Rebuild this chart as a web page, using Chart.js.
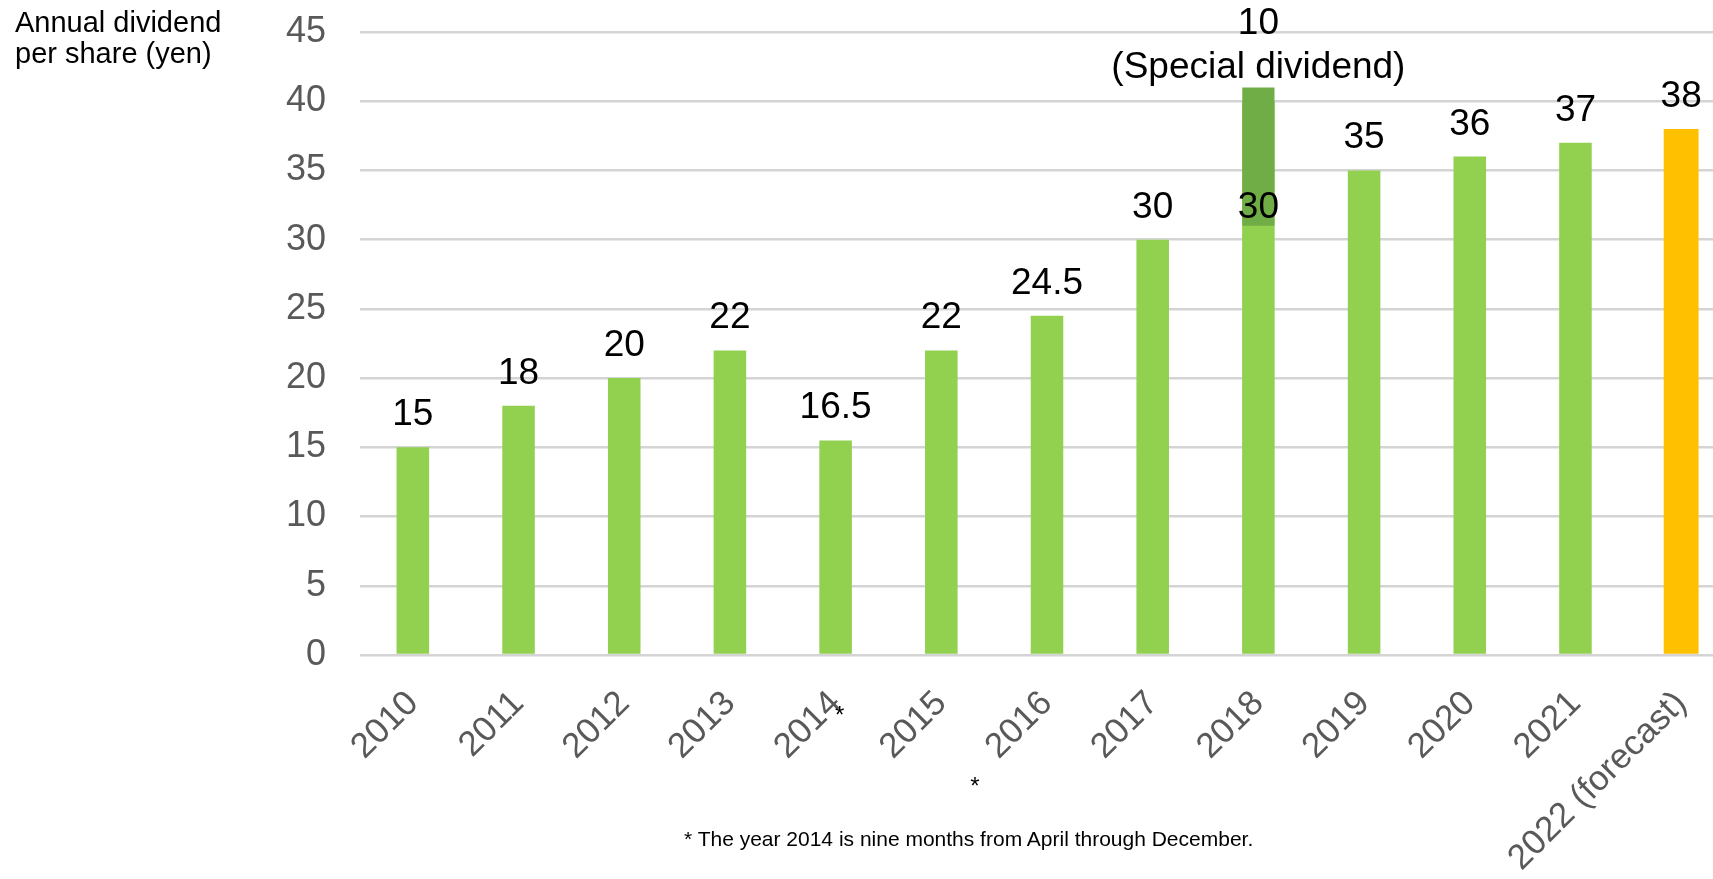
<!DOCTYPE html>
<html>
<head>
<meta charset="utf-8">
<script src="https://cdn.jsdelivr.net/npm/chart.js@4.4.0/dist/chart.umd.min.js"></script>
<style>
  html, body { margin: 0; padding: 0; background: #fff; overflow: hidden; }
  #wrap { position: relative; width: 1713px; height: 879px; overflow: hidden; font-family: 'Liberation Sans', Arial, sans-serif; }
  #chart { position: absolute; left: 0; top: 0; }
  .axis-title { position: absolute; left: 15px; top: 7px; font-size: 29px; line-height: 31px; color: #000; }
  .footnote { position: absolute; left: 684px; top: 827px; font-size: 21px; color: #000; white-space: nowrap; }
</style>
</head>
<body>
<div id="wrap">
  <canvas id="chart" width="1740" height="879"></canvas>
  <div class="axis-title">Annual dividend<br>per share (yen)</div>
  <div class="footnote">* The year 2014 is nine months from April through December.</div>
</div>
<script>
// ---- data ----
const years = ['2010', '2011', '2012', '2013', '2014', '2015', '2016', '2017', '2018', '2019', '2020', '2021', '2022 (forecast)']
// bar heights as drawn (2018 includes the special dividend)
const dividend = [15, 18, 20, 22, 15.5, 22, 24.5, 30, 40, 35, 36, 37, null]
const forecast = [null, null, null, null, null, null, null, null, null, null, null, null, 38]
// special dividend block, drawn as a floating bar
const special = [null, null, null, null, null, null, null, null, [31, 41], null, null, null, null]
const valueLabels = ['15', '18', '20', '22', '16.5', '22', '24.5', '30', '30', '35', '36', '37', '38']
const specialLabel = ['10', '(Special dividend)']
const yMin = 0
const yMax = 45
const yStep = 5

const FONT = "'Liberation Sans', Arial, sans-serif"
Chart.defaults.font.family = FONT

// value labels above the bars + asterisks next to the tick labels
const barLabels = {
  id: 'barLabels',
  afterDatasetsDraw(chart) {
    const { ctx } = chart
    const x = chart.scales.x
    const y = chart.scales.y
    ctx.save()
    ctx.fillStyle = '#000'
    ctx.textAlign = 'center'
    ctx.textBaseline = 'alphabetic'
    ctx.font = `37px ${FONT}`

    valueLabels.forEach((text, i) => {
      let v = dividend[i] ?? forecast[i]
      if (special[i]) v -= special[i][1] - special[i][0]
      ctx.fillText(text, x.getPixelForValue(i), y.getPixelForValue(v) - 22)
    })

    const si = special.findIndex((s) => s)
    const top = y.getPixelForValue(special[si][1])
    ctx.fillText(specialLabel[1], x.getPixelForValue(si), top - 9)
    ctx.fillText(specialLabel[0], x.getPixelForValue(si), top - 53)

    // footnote markers
    ctx.font = `24px ${FONT}`
    ctx.fillText('*', x.getPixelForValue(4) + 4, y.bottom + 68)
    ctx.fillText('*', x.getPixelForValue(6) - 72, y.bottom + 139)
    ctx.restore()
  }
}

new Chart(document.getElementById('chart'), {
  type: 'bar',
  data: {
    labels: years,
    datasets: [
      {
        label: 'Special dividend',
        data: special,
        backgroundColor: '#70AD47',
        barPercentage: 0.305,
        categoryPercentage: 1,
        grouped: false
      },
      {
        label: 'Dividend',
        data: dividend,
        backgroundColor: '#92D050',
        barPercentage: 0.308,
        categoryPercentage: 1,
        grouped: false
      },
      {
        label: 'Forecast',
        data: forecast,
        backgroundColor: '#FFC000',
        barPercentage: 0.33,
        categoryPercentage: 1,
        grouped: false
      }
    ]
  },
  options: {
    responsive: false,
    animation: false,
    devicePixelRatio: 1,
    layout: { padding: { top: 32, right: 6, bottom: 0, left: 0 } },
    plugins: { legend: { display: false }, tooltip: { enabled: false } },
    scales: {
      x: {
        grid: { display: false, drawTicks: false },
        border: { display: false },
        ticks: {
          color: '#595959',
          font: { size: 35 },
          minRotation: 45,
          maxRotation: 45,
          autoSkip: false,
          padding: 28,
          labelOffset: 0
        },
        afterFit: (s) => { s.height = 224 }
      },
      y: {
        min: yMin,
        max: yMax,
        ticks: { stepSize: yStep, color: '#595959', font: { size: 36 }, padding: 34 },
        grid: { color: '#d4d4d4', lineWidth: 2.5, drawTicks: false },
        border: { display: false },
        afterFit: (s) => {
          s.width = 360
          s.paddingTop = 0
          s.paddingBottom = 0
        }
      }
    }
  },
  plugins: [barLabels]
})
</script>
</body>
</html>
